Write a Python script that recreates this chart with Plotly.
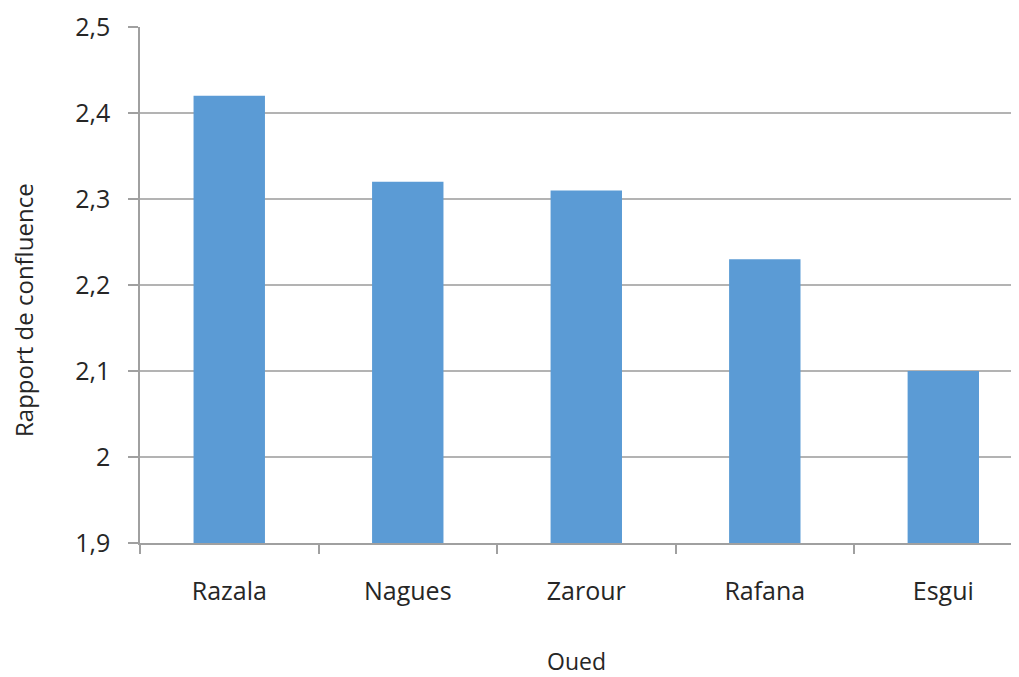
import plotly.graph_objects as go

categories = ["Razala", "Nagues", "Zarour", "Rafana", "Esgui"]
values = [2.42, 2.32, 2.31, 2.23, 2.10]
y_ticks = [1.9, 2.0, 2.1, 2.2, 2.3, 2.4, 2.5]

FONT = "Open Sans"
TXT = "#262626"
GRID = "#b3b3b3"

fig = go.Figure(go.Bar(
    x=categories, y=values,
    marker=dict(color="#5b9bd5", line=dict(width=0)),
    width=0.4,
))

fig.update_layout(
    width=1011, height=669,
    margin=dict(l=132, r=0, t=19, b=134),
    paper_bgcolor="white", plot_bgcolor="white",
    separators=", ",
    showlegend=False,
    font=dict(family=FONT, color=TXT, size=24),
    xaxis=dict(
        type="category",
        range=[-0.5, 4.424],
        tickson="boundaries",
        ticks="outside", ticklen=9, tickwidth=1.5, tickcolor="#a0a0a0",
        showline=True, linecolor="#a0a0a0", linewidth=1.5,
        showgrid=False,
        tickfont=dict(family=FONT, size=25, color=TXT),
        ticklabelstandoff=25,
    ),
    yaxis=dict(
        range=[1.9, 2.5],
        tickvals=y_ticks,
        ticks="outside", ticklen=10, tickwidth=1.5, tickcolor="#a0a0a0",
        showline=True, linecolor="#a0a0a0", linewidth=1.5,
        showgrid=True, gridcolor=GRID, gridwidth=1.5,
        zeroline=False,
        tickfont=dict(family=FONT, size=25, color=TXT),
        ticklabelstandoff=13,
    ),
    annotations=[
        dict(text="Rapport de confluence", xref="paper", yref="paper",
             x=(23 - 140) / 879, y=(543 - 310) / 516, xanchor="center", yanchor="middle",
             textangle=-90, showarrow=False, font=dict(family=FONT, size=24, color=TXT)),
        dict(text="Oued", xref="paper", yref="paper",
             x=(576 - 140) / 879, y=(543 - 661) / 516, xanchor="center", yanchor="middle",
             showarrow=False, font=dict(family=FONT, size=23, color=TXT)),
    ],
)

fig.write_html("out.html")
